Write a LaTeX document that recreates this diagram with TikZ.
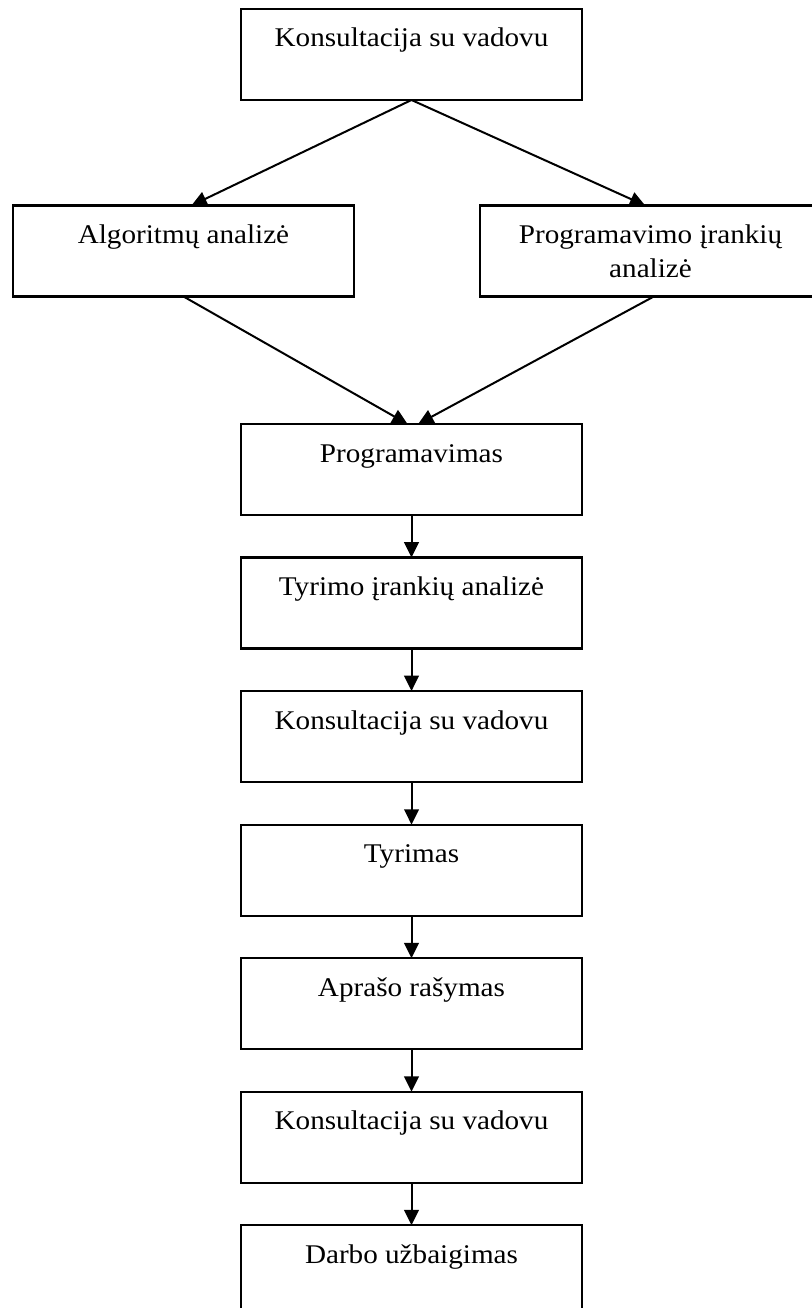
\documentclass[tikz,border=0pt]{standalone}
\usepackage{fontspec}
\setmainfont{Liberation Serif}[FakeStretch=1.08]
\usetikzlibrary{arrows.meta,positioning}
\tikzset{
  >={Triangle[length=11.5pt,width=11pt]},
  stepbox/.style={draw,line width=1.6pt,minimum width=255.75pt,inner sep=0pt,outer sep=0pt,
    text height=28.5pt,text depth=39.75pt,align=center,font=\fontsize{20.25pt}{25.5pt}\selectfont},
  twoline/.style={text height=54pt,text depth=14.25pt},
  flow/.style={->,line width=1.5pt},
}

\begin{document}
\begin{tikzpicture}[x=0.75pt,y=0.75pt,node distance=31.9pt]
  \useasboundingbox (0,0) rectangle (812,-1308);
  \node[stepbox] (konsA) at (411.5,-54.5) {Konsultacija su vadovu};
  \node[stepbox] (algo) at (183.5,-251) {Algoritmų analizė};
  \node[stepbox,twoline] (prog) at (650.5,-251) {Programavimo įrankių\\analizė};
  \node[stepbox] (progr) at (411.5,-469.5) {Programavimas};
  \node[stepbox,below=of progr] (tyrIr) {Tyrimo įrankių analizė};
  \node[stepbox,below=of tyrIr] (konsB) {Konsultacija su vadovu};
  \node[stepbox,below=of konsB] (tyr) {Tyrimas};
  \node[stepbox,below=of tyr] (apr) {Aprašo rašymas};
  \node[stepbox,below=of apr] (konsC) {Konsultacija su vadovu};
  \node[stepbox,below=of konsC] (darb) {Darbo užbaigimas};

  \draw[flow] (konsA.south) -- ([xshift=6pt]algo.north);
  \draw[flow] (konsA.south) -- ([xshift=-4pt]prog.north);
  \draw[flow] (algo.south) -- ([xshift=-3pt]progr.north);
  \draw[flow] ([xshift=2.5pt]prog.south) -- ([xshift=5pt]progr.north);
  \draw[flow] (progr) -- (tyrIr);
  \draw[flow] (tyrIr) -- (konsB);
  \draw[flow] (konsB) -- (tyr);
  \draw[flow] (tyr) -- (apr);
  \draw[flow] (apr) -- (konsC);
  \draw[flow] (konsC) -- (darb);
\end{tikzpicture}
\end{document}
